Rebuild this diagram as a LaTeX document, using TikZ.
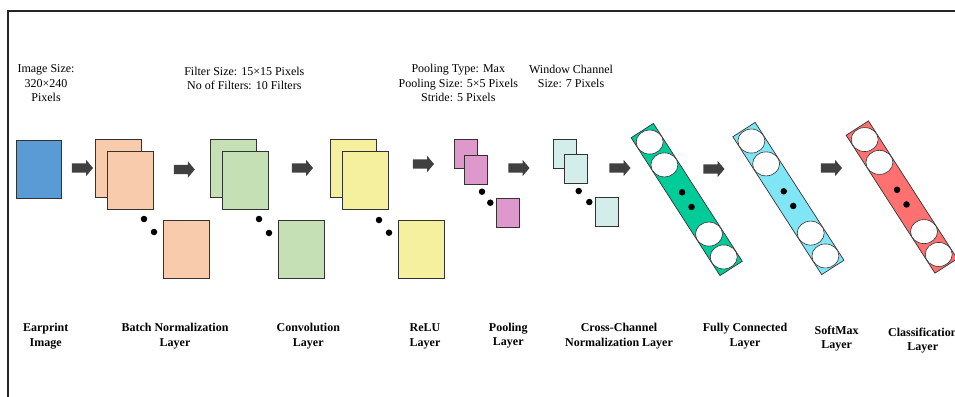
\documentclass[tikz,border=0pt]{standalone}
\usepackage{fontspec}
\setmainfont{Liberation Serif}
\usetikzlibrary{shapes.geometric,shapes.arrows,calc}
\definecolor{inblue}{HTML}{5B9BD5}
\definecolor{peach}{HTML}{F8CBAD}
\definecolor{lgreen}{HTML}{C5E0B4}
\definecolor{lyellow}{HTML}{F5F09E}
\definecolor{lpink}{HTML}{DF98CB}
\definecolor{lcyan}{HTML}{D3EDEB}
\definecolor{fcgreen}{HTML}{00CC99}
\definecolor{smcyan}{HTML}{80E6F5}
\definecolor{clred}{HTML}{FF7070}
\definecolor{arrowgray}{HTML}{404040}
\tikzset{
  lay/.style={draw=black!80, line width=0.7pt, inner sep=0pt},
  bigmap/.style={lay, minimum width=46pt, minimum height=58pt},
  smallmap/.style={lay, minimum width=23pt, minimum height=29pt},
  dotnode/.style={circle, fill=black, draw=none, inner sep=0pt, minimum size=6.5pt},
  blockarrow/.style={single arrow, fill=arrowgray, draw=none, inner xsep=0pt, inner ysep=4.5pt,
    minimum height=21pt, single arrow head extend=3.5pt, single arrow tip angle=100},
  bar/.style={lay, minimum width=26.5pt, minimum height=164pt, rotate=32.8},
  neuron/.style={ellipse, draw=black!80, line width=0.6pt, fill=white, inner sep=0pt,
    minimum width=27pt, minimum height=24pt},
  info/.style={align=center, inner sep=0pt, font=\fontsize{12}{14.5}\selectfont},
  lbl/.style={align=center, inner sep=0pt, font=\fontsize{12}{14.5}\selectfont\bfseries},
}
\begin{document}
\begin{tikzpicture}[x=1pt,y=-1pt]
\useasboundingbox (0,0) rectangle (955,396);
% frame
\draw[line width=1.6pt, black!85] (8,400) -- (8,11) -- (960,11);

% input
\node[lay, fill=inblue, minimum width=45pt, minimum height=58pt] (in) at (38.5,169) {};
% batch norm
\node[bigmap, fill=peach] (bn1) at (118,168) {};
\node[bigmap, fill=peach] (bn2) at (130,180) {};
\node[bigmap, fill=peach] (bn3) at (186,249) {};
\node[dotnode] (bnd1) at (144,219) {};
\node[dotnode] (bnd2) at (154,232) {};
% convolution
\node[bigmap, fill=lgreen] (cv1) at (233,168) {};
\node[bigmap, fill=lgreen] (cv2) at (245,180.5) {};
\node[bigmap, fill=lgreen] (cv3) at (301,249.5) {};
\node[dotnode] (cvd1) at (259,219) {};
\node[dotnode] (cvd2) at (269,233) {};
% relu
\node[bigmap, fill=lyellow] (re1) at (353,168) {};
\node[bigmap, fill=lyellow] (re2) at (365,180.5) {};
\node[bigmap, fill=lyellow] (re3) at (421,249.5) {};
\node[dotnode] (red1) at (379,220) {};
\node[dotnode] (red2) at (389,232.7) {};
% pooling
\node[smallmap, fill=lpink] (pl1) at (466,154) {};
\node[smallmap, fill=lpink] (pl2) at (476.3,170) {};
\node[smallmap, fill=lpink] (pl3) at (508,212.5) {};
\node[dotnode] (pld1) at (482,191.7) {};
\node[dotnode] (pld2) at (490.3,202.7) {};
% cross-channel
\node[smallmap, fill=lcyan] (cc1) at (565,153.5) {};
\node[smallmap, fill=lcyan] (cc2) at (576,169) {};
\node[smallmap, fill=lcyan] (cc3) at (607,211.5) {};
\node[dotnode] (ccd1) at (578.7,191) {};
\node[dotnode] (ccd2) at (589.3,202) {};

% bars
\foreach \n/\c/\x/\y in {fc/fcgreen/686.7/199.5, sm/smcyan/788.4/198.5, cl/clred/901.7/197}{
  \node[bar, fill=\c] (\n) at (\x,\y) {};
  \node[neuron] (\n n1) at ($(\n.north)!0.085!(\n.south)$) {};
  \node[neuron] (\n n2) at ($(\n.north)!0.25!(\n.south)$) {};
  \node[neuron] (\n n3) at ($(\n.north)!0.75!(\n.south)$) {};
  \node[neuron] (\n n4) at ($(\n.north)!0.915!(\n.south)$) {};
  \node[dotnode] (\n d1) at ($(\n.north)!0.448!(\n.south)$) {};
  \node[dotnode] (\n d2) at ($(\n.north)!0.554!(\n.south)$) {};
}

% arrows
\node[blockarrow] (a1) at (80.5,168) {};
\node[blockarrow] (a2) at (182.3,169.5) {};
\node[blockarrow] (a3) at (300.5,168) {};
\node[blockarrow] (a4) at (421.5,164) {};
\node[blockarrow] (a5) at (517,168) {};
\node[blockarrow] (a6) at (618,168) {};
\node[blockarrow] (a7) at (712,169) {};
\node[blockarrow] (a8) at (829.5,168) {};

% info texts
\node[info] (t1) at (46,83.5) {Image Size:\\320×240\\Pixels};
\node[info] (t2) at (244.3,78.5) {Filter Size: 15×15 Pixels\\No of Filters: 10 Filters};
\node[info] (t3) at (458.3,83) {Pooling Type: Max\\Pooling Size: 5×5 Pixels\\Stride: 5 Pixels};
\node[info] (t4) at (571,76.5) {Window Channel\\Size: 7 Pixels};

% labels
\node[lbl] (l1) at (45.7,336.3) {Earprint\\Image};
\node[lbl] (l2) at (175,336.3) {Batch Normalization\\Layer};
\node[lbl] (l3) at (308.3,336.3) {Convolution\\Layer};
\node[lbl] (l4) at (425,336.3) {ReLU\\Layer};
\node[lbl] (l5) at (508.3,335.7) {Pooling\\Layer};
\node[lbl] (l6) at (619,336.3) {Cross-Channel\\Normalization Layer};
\node[lbl] (l7) at (745,336) {Fully Connected\\Layer};
\node[lbl] (l8) at (836.7,338.5) {SoftMax\\Layer};
\node[lbl] (l9) at (922.8,340.5) {Classification\\Layer};
\end{tikzpicture}
\end{document}
